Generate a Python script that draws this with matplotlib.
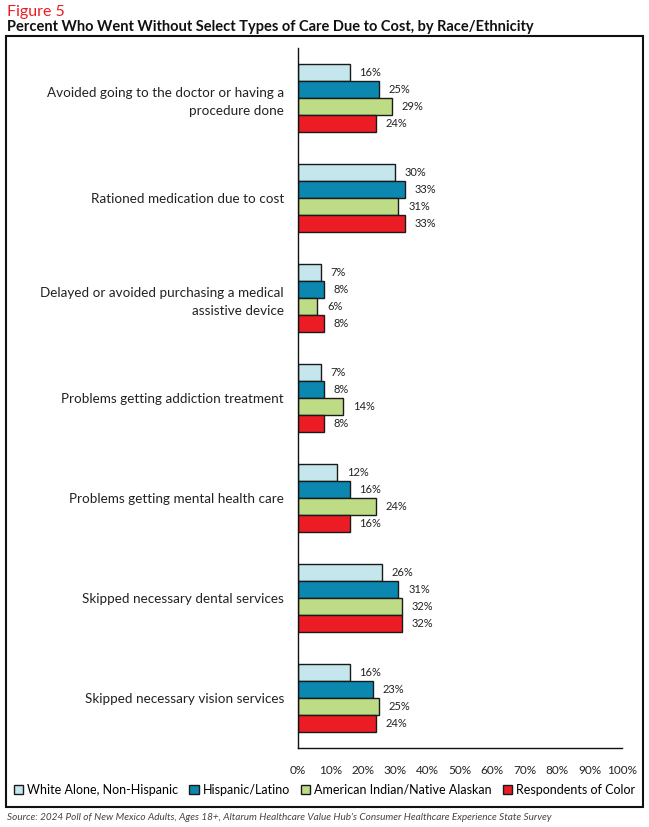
import numpy as np
import matplotlib
matplotlib.use("Agg")
import matplotlib.pyplot as plt
from matplotlib.patches import Patch, Rectangle

plt.rcParams["font.family"] = ["Lato", "DejaVu Sans"]

categories = [
    "Avoided going to the doctor or having a\nprocedure done",
    "Rationed medication due to cost",
    "Delayed or avoided purchasing a medical\nassistive device",
    "Problems getting addiction treatment",
    "Problems getting mental health care",
    "Skipped necessary dental services",
    "Skipped necessary vision services",
]
series_names = [
    "White Alone, Non-Hispanic",
    "Hispanic/Latino",
    "American Indian/Native Alaskan",
    "Respondents of Color",
]
white = [16, 30, 7, 7, 12, 26, 16]
hispanic = [25, 33, 8, 8, 16, 31, 23]
native = [29, 31, 6, 14, 24, 32, 25]
color_resp = [24, 33, 8, 8, 16, 32, 24]
xticks = [0, 10, 20, 30, 40, 50, 60, 70, 80, 90, 100]

colors = ["#c4e6ec", "#0b87b0", "#bedb85", "#ec1c24"]
W, H = 649, 827

fig = plt.figure(figsize=(W / 100, H / 100), dpi=100)
ax = fig.add_axes([298 / W, 1 - 748 / H, (622 - 298) / W, 700 / H])

y = np.arange(len(categories))
h = 0.17
for k, (vals, c) in enumerate(zip([white, hispanic, native, color_resp], colors)):
    pos = y + (k - 1.5) * h
    ax.barh(pos, vals, height=h, color=c, edgecolor="#1a1a1a", linewidth=1.0)
    for p, v in zip(pos, vals):
        ax.text(v + 3, p, f"{v}%", va="center", ha="left", fontsize=8, color="#222222")

ax.set_ylim(6.5, -0.5)
ax.set_xlim(0, 100)
ax.set_yticks(y)
ax.set_yticklabels(categories, fontsize=9.7, color="#222222", linespacing=1.6)
ax.set_xticks(xticks)
ax.set_xticklabels([f"{t}%" for t in xticks], fontsize=8.5, color="#222222")
ax.tick_params(axis="both", length=0)
ax.tick_params(axis="y", pad=10)
ax.tick_params(axis="x", pad=12)
for s in ["top", "right"]:
    ax.spines[s].set_visible(False)
for s in ["left", "bottom"]:
    ax.spines[s].set_linewidth(1.0)
    ax.spines[s].set_color("#111111")

handles = [Patch(facecolor=c, edgecolor="#1a1a1a", linewidth=1.0) for c in colors]
fig.legend(handles, series_names, loc="center", bbox_to_anchor=(0.5, 1 - 790 / H),
           ncol=4, frameon=False, fontsize=9.0, handlelength=0.75, handleheight=0.75,
           handletextpad=0.3, columnspacing=0.9, borderaxespad=0)

fig.patches.append(Rectangle((6 / W, 1 - 807 / H), (643 - 6) / W, (807 - 36) / H,
                             transform=fig.transFigure, fill=False,
                             edgecolor="#111111", linewidth=1.5))

fig.text(7 / W, 1 - 12 / H, "Figure 5", color="#ec1c24", fontsize=11.5,
         va="center", ha="left")
fig.text(7 / W, 1 - 27 / H,
         "Percent Who Went Without Select Types of Care Due to Cost, by Race/Ethnicity",
         fontsize=10.5, fontweight="bold", va="center", ha="left", color="#111111")
fig.text(7 / W, 1 - 817 / H,
         "Source: 2024 Poll of New Mexico Adults, Ages 18+, Altarum Healthcare Value Hub's "
         "Consumer Healthcare Experience State Survey",
         fontsize=7.2, style="italic", color="#444444", va="center", ha="left")

fig.savefig("out.png", dpi=100)
